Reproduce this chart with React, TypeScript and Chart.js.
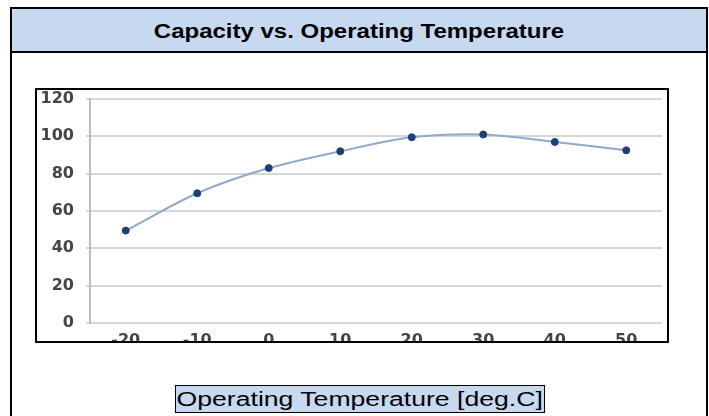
import React, { useEffect, useRef } from "react";
import Chart from "chart.js/auto";

const temperatures = ["-20", "-10", "0", "10", "20", "30", "40", "50"];
const capacity = [49.5, 69.5, 83, 92, 99.5, 101, 97, 92.5];
const yTicks = [0, 20, 40, 60, 80, 100, 120];
const titleText = "Capacity vs. Operating Temperature";
const xAxisTitle = "Operating Temperature [deg.C]";

export default function App() {
  const ref = useRef<HTMLCanvasElement | null>(null);

  useEffect(() => {
    if (!ref.current) return;
    const tickFont = { family: "DejaVu Sans", size: 16, weight: "bold" as const };
    const chart = new Chart(ref.current, {
      type: "line",
      data: {
        labels: temperatures,
        datasets: [
          {
            data: capacity,
            borderColor: "#8eaacb",
            borderWidth: 2,
            tension: 0.3,
            pointRadius: 3.5,
            pointBackgroundColor: "#1f3f78",
            pointBorderColor: "#1f3f78",
            pointBorderWidth: 1,
          },
        ],
      },
      options: {
        responsive: false,
        animation: false,
        layout: { padding: { top: 9, right: 2, left: 0, bottom: 0 } },
        plugins: { legend: { display: false }, title: { display: false }, tooltip: { enabled: false } },
        scales: {
          x: {
            offset: true,
            grid: { display: false },
            border: { display: false },
            ticks: {
              color: "#454545",
              padding: 0,
              font: tickFont,
              maxRotation: 0,
              autoSkip: false,
            },
            afterFit: (s: any) => {
              s.height = 40;
              s.paddingLeft = 0;
              s.paddingRight = 0;
            },
          },
          y: {
            min: 0,
            max: 120,
            afterBuildTicks: (s: any) => {
              s.ticks = yTicks.map((v) => ({ value: v }));
            },
            grid: { color: "#d6d6d6", lineWidth: 2, tickLength: 4 },
            border: { display: true, color: "#bdbdbd", width: 2 },
            ticks: {
              color: "#454545",
              padding: 12,
              font: tickFont,
            },
            afterFit: (s: any) => {
              s.width = 53;
              s.paddingTop = 0;
              s.paddingBottom = 0;
            },
          },
        },
      },
    });
    return () => chart.destroy();
  }, []);

  return (
    <div style={{ position: "absolute", left: 0, top: 0, width: 709, height: 416, overflow: "hidden", background: "#fff", fontFamily: "'Liberation Sans', Arial, sans-serif" }}>
      <div style={{ position: "absolute", left: 10, top: 7, width: 694, height: 420, border: "2px solid #000", boxSizing: "content-box" }} />
      <div style={{ position: "absolute", left: 12, top: 9, width: 694, height: 42, background: "#c6d9f1", borderBottom: "2px solid #000", display: "flex", alignItems: "center", justifyContent: "center" }}>
        <span style={{ fontWeight: "bold", fontSize: 20, display: "inline-block", transform: "scaleX(1.2)", color: "#000", lineHeight: "24px", marginTop: 2 }}>{titleText}</span>
      </div>
      <div style={{ position: "absolute", left: 35, top: 88, width: 630, height: 251, border: "2px solid #000", overflow: "hidden", background: "#fff" }}>
        <canvas ref={ref} width={630} height={273} style={{ display: "block" }} />
      </div>
      <div style={{ position: "absolute", left: 175, top: 385, width: 368, height: 26, border: "1px solid #000", background: "#c6d9f1", display: "flex", alignItems: "center", justifyContent: "center", overflow: "hidden" }}>
        <span style={{ fontSize: 20, color: "#000", lineHeight: "26px", display: "inline-block", transform: "scaleX(1.33)", whiteSpace: "nowrap" }}>{xAxisTitle}</span>
      </div>
    </div>
  );
}
